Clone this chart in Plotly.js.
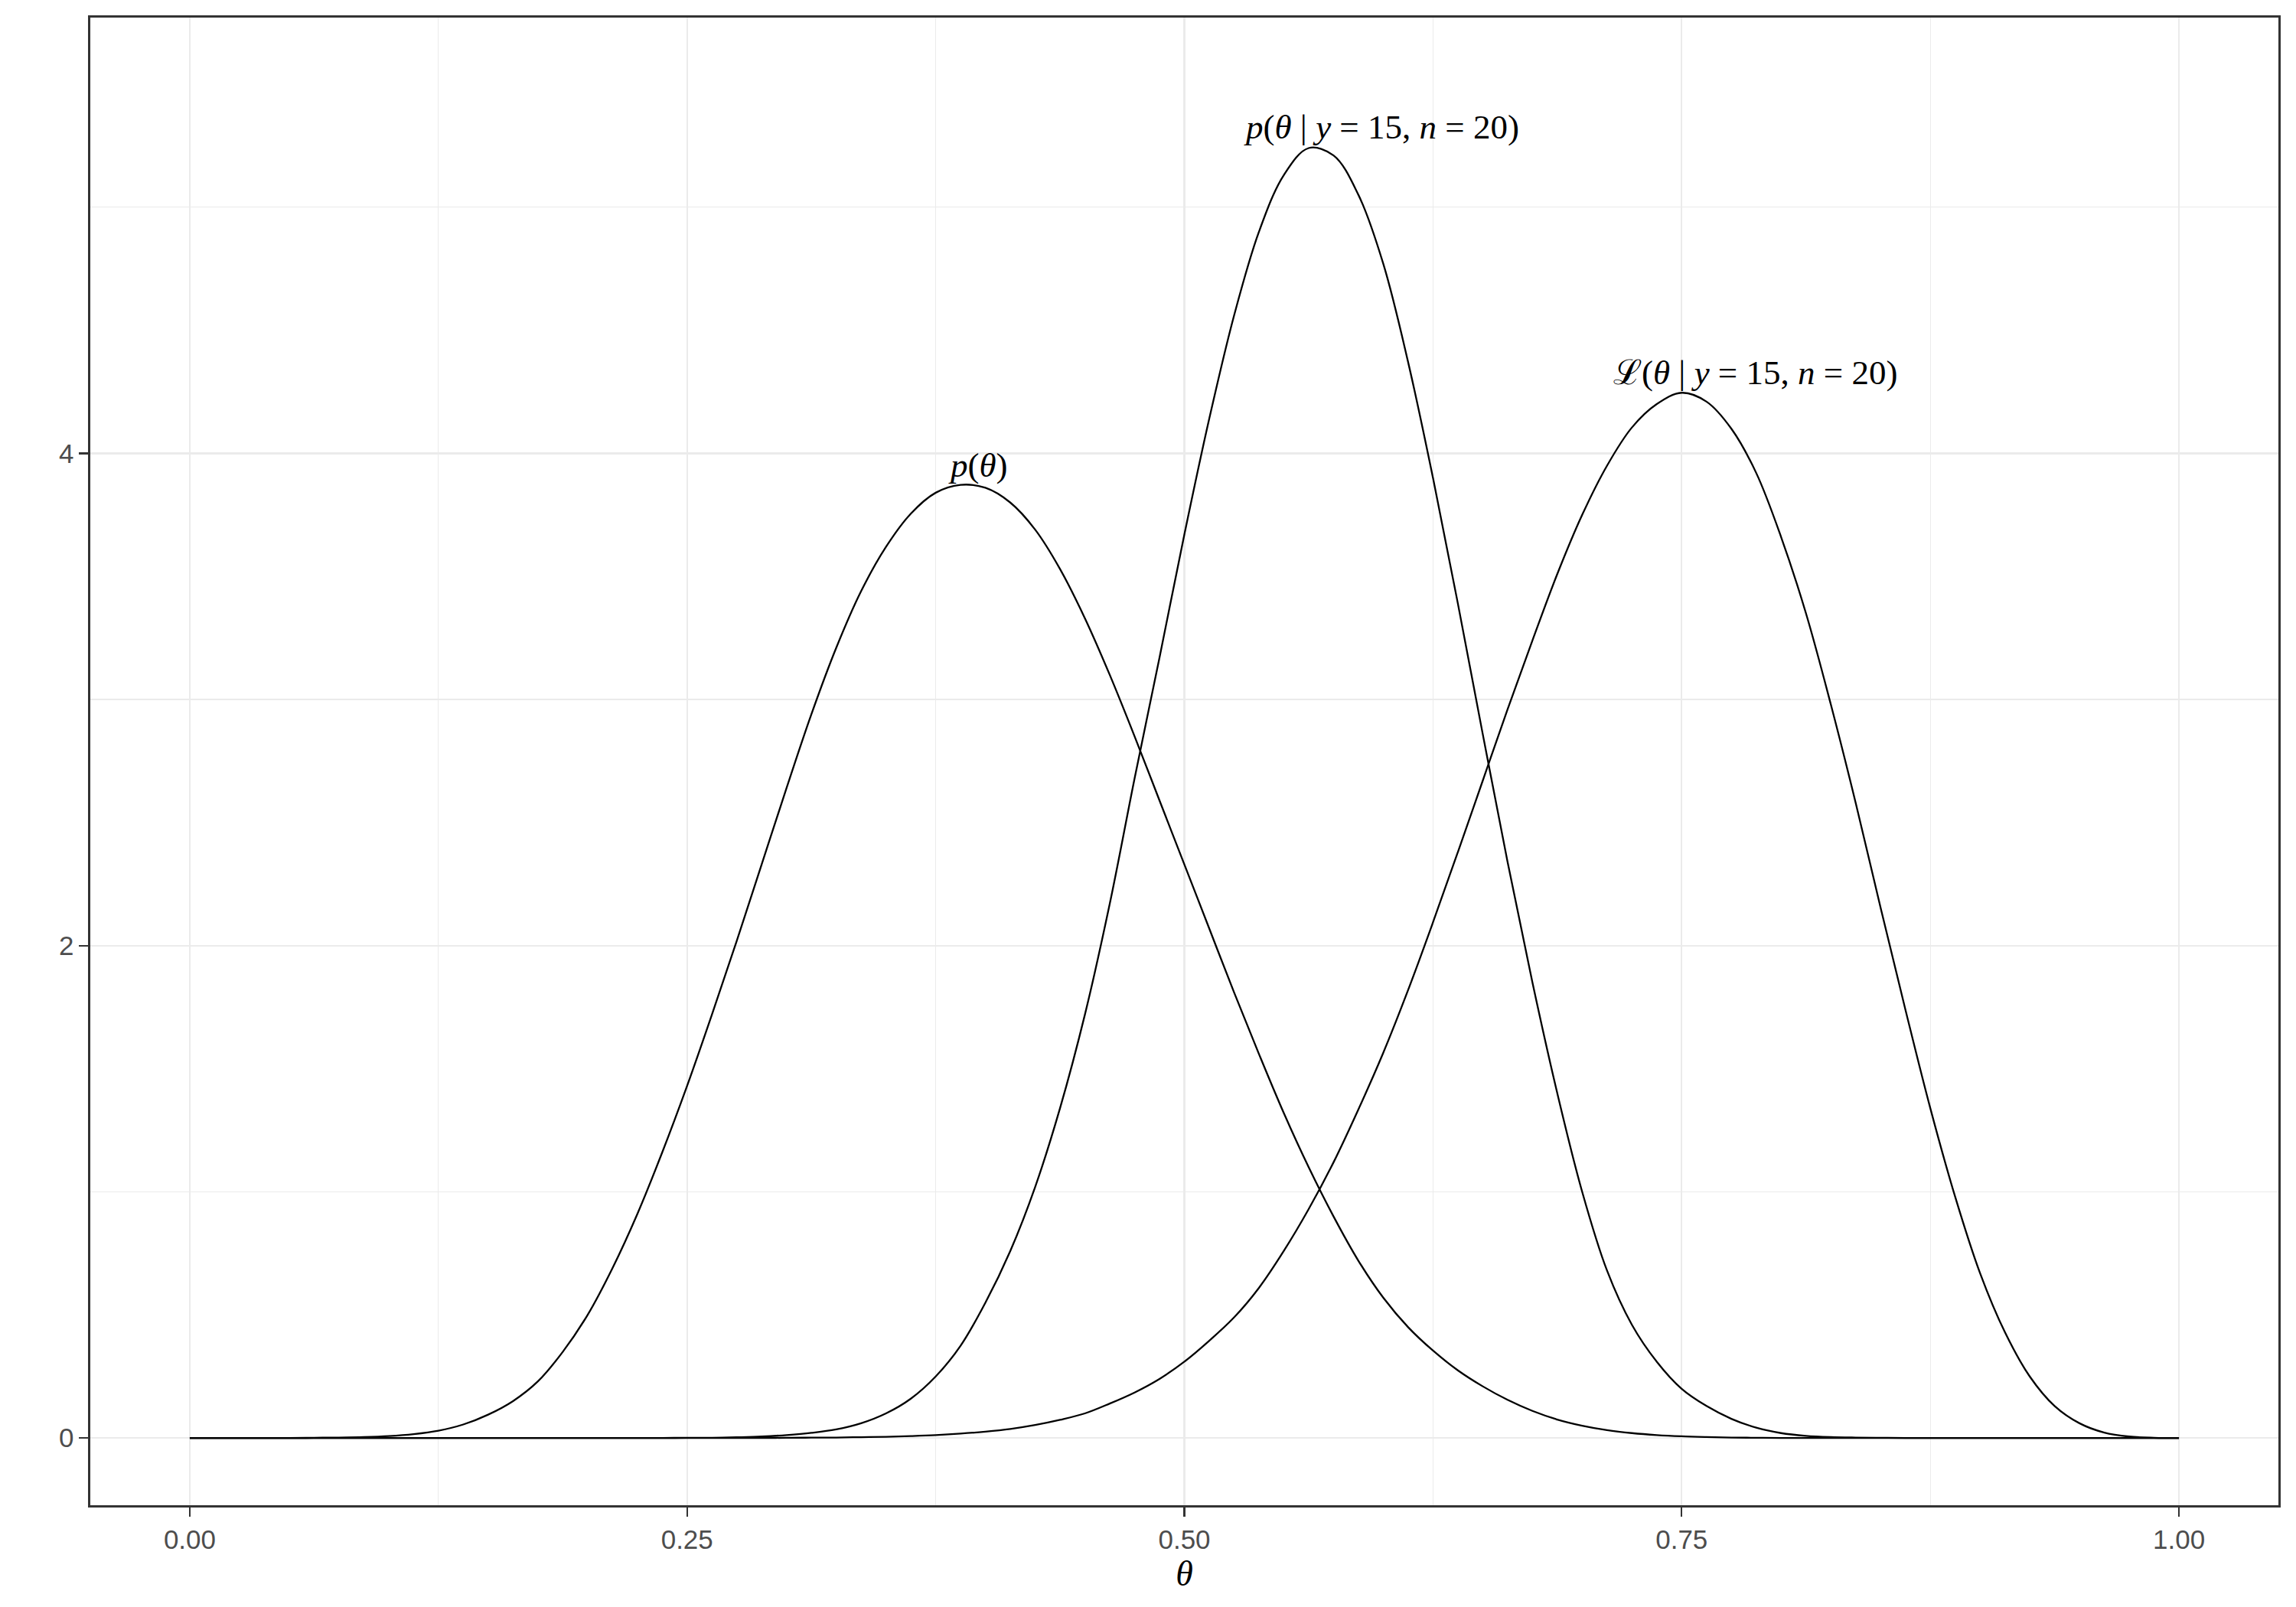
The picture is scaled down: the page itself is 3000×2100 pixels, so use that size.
<!DOCTYPE html>
<html>
<head>
<meta charset="utf-8">
<script src="https://cdn.plot.ly/plotly-3.0.1.min.js"></script>
<style>
  html, body { margin: 0; padding: 0; background: #ffffff; }
  #myDiv { width: 3000px; height: 2100px; }
</style>
</head>
<body>
<div id="myDiv"></div>
<script>
// theta grid, values every 0.0125
var theta = [0, 0.0125, 0.025, 0.0375, 0.05, 0.0625, 0.075, 0.0875, 0.1, 0.1125,
  0.125, 0.1375, 0.15, 0.1625, 0.175, 0.1875, 0.2, 0.2125, 0.225, 0.2375,
  0.25, 0.2625, 0.275, 0.2875, 0.3, 0.3125, 0.325, 0.3375, 0.35, 0.3625,
  0.375, 0.3875, 0.4, 0.4125, 0.425, 0.4375, 0.45, 0.4625, 0.475, 0.4875,
  0.5, 0.5125, 0.525, 0.5375, 0.55, 0.5625, 0.575, 0.5875, 0.6, 0.6125,
  0.625, 0.6375, 0.65, 0.6625, 0.675, 0.6875, 0.7, 0.7125, 0.725, 0.7375,
  0.75, 0.7625, 0.775, 0.7875, 0.8, 0.8125, 0.825, 0.8375, 0.85, 0.8625,
  0.875, 0.8875, 0.9, 0.9125, 0.925, 0.9375, 0.95, 0.9625, 0.975, 0.9875,
  1];

// p(theta)
var prior = [0, 0, 0, 0, 0, 0.001, 0.002, 0.004, 0.008, 0.016,
  0.03, 0.055, 0.095, 0.15, 0.23, 0.35, 0.5, 0.69, 0.91, 1.16,
  1.43, 1.72, 2.02, 2.33, 2.64, 2.94, 3.21, 3.44, 3.62, 3.755,
  3.84, 3.872, 3.86, 3.8, 3.69, 3.53, 3.33, 3.1, 2.85, 2.59,
  2.33, 2.07, 1.81, 1.56, 1.32, 1.1, 0.9, 0.72, 0.57, 0.45,
  0.355, 0.275, 0.21, 0.155, 0.11, 0.075, 0.05, 0.032, 0.02, 0.012,
  0.007, 0.004, 0.002, 0.001, 0, 0, 0, 0, 0, 0,
  0, 0, 0, 0, 0, 0, 0, 0, 0, 0,
  0];

// p(theta | y = 15, n = 20)
var posterior = [0, 0, 0, 0, 0, 0, 0, 0, 0, 0,
  0, 0, 0, 0, 0, 0, 0, 0, 0, 0,
  0.001, 0.001, 0.003, 0.006, 0.012, 0.021, 0.035, 0.06, 0.1, 0.16,
  0.25, 0.375, 0.55, 0.76, 1.02, 1.34, 1.72, 2.17, 2.68, 3.17,
  3.67, 4.14, 4.56, 4.9, 5.13, 5.24, 5.21, 5.05, 4.77, 4.37,
  3.9, 3.39, 2.86, 2.34, 1.85, 1.4, 1.0, 0.68, 0.46, 0.31,
  0.2, 0.13, 0.078, 0.042, 0.02, 0.009, 0.004, 0.002, 0.001, 0,
  0, 0, 0, 0, 0, 0, 0, 0, 0, 0,
  0];

// L(theta | y = 15, n = 20)
var likelihood = [0, 0, 0, 0, 0, 0, 0, 0, 0, 0,
  0, 0, 0, 0, 0, 0, 0, 0, 0, 0,
  0, 0, 0, 0, 0.001, 0.0015, 0.002, 0.0035, 0.005, 0.008,
  0.012, 0.018, 0.026, 0.037, 0.053, 0.074, 0.1, 0.14, 0.185, 0.24,
  0.31, 0.395, 0.49, 0.61, 0.76, 0.93, 1.12, 1.335, 1.565, 1.82,
  2.095, 2.38, 2.67, 2.96, 3.24, 3.51, 3.75, 3.95, 4.105, 4.2,
  4.246, 4.21, 4.1, 3.92, 3.66, 3.35, 2.98, 2.58, 2.155, 1.74,
  1.34, 0.98, 0.67, 0.43, 0.25, 0.13, 0.06, 0.022, 0.006, 0.001,
  0];

var xTicks = [0, 0.25, 0.5, 0.75, 1];
var xTickText = ["0.00", "0.25", "0.50", "0.75", "1.00"];
var yTicks = [0, 2, 4];
var yTickText = ["0", "2", "4"];

var labelPrior = "<i>p</i>(<i>θ</i>)";
var labelPosterior = "<i>p</i>(<i>θ</i> | <i>y</i> = 15, <i>n</i> = 20)";
var labelLikelihood = "ℒ(<i>θ</i> | <i>y</i> = 15, <i>n</i> = 20)";

function maxOf(arr) {
  return Math.max.apply(null, arr);
}

function curve(y) {
  return {
    type: "scatter",
    mode: "lines",
    x: theta,
    y: y,
    line: { color: "#000000", width: 2.3, shape: "spline", smoothing: 1 },
    hoverinfo: "skip",
    showlegend: false,
  };
}

var data = [curve(likelihood), curve(posterior), curve(prior)];

var serif = "Liberation Serif, DejaVu Serif, serif";
var sans = "Liberation Sans, Arial, sans-serif";
var major = "#EBEBEB";

function label(text, x, y) {
  return {
    x: x, y: y, xref: "x", yref: "y",
    text: text, showarrow: false,
    xanchor: "center", yanchor: "bottom",
    font: { family: serif, size: 45, color: "#000000" },
    borderpad: 0,
  };
}

var layout = {
  width: 3000,
  height: 2100,
  paper_bgcolor: "#ffffff",
  plot_bgcolor: "#ffffff",
  margin: { l: 118, r: 23, t: 23, b: 133 },
  showlegend: false,
  xaxis: {
    range: [-0.05, 1.05],
    tickmode: "array",
    tickvals: xTicks,
    ticktext: xTickText,
    ticks: "outside",
    ticklen: 12,
    tickwidth: 2.2,
    tickcolor: "#333333",
    tickfont: { family: sans, size: 35, color: "#4D4D4D" },
    showgrid: true,
    gridcolor: major,
    gridwidth: 2.3,
    minor: { tickmode: "linear", tick0: 0.125, dtick: 0.25, showgrid: true, gridcolor: major, gridwidth: 1.2, ticks: "" },
    zeroline: false,
    showline: true,
    mirror: true,
    linecolor: "#333333",
    linewidth: 2.6,
    title: { text: "<i>θ</i>", font: { family: serif, size: 46, color: "#000000" }, standoff: 8 },
  },
  yaxis: {
    range: [-0.273, 5.77],
    tickmode: "array",
    tickvals: yTicks,
    ticktext: yTickText,
    ticks: "outside",
    ticklen: 12,
    tickwidth: 2.2,
    tickcolor: "#333333",
    tickfont: { family: sans, size: 35, color: "#4D4D4D" },
    showgrid: true,
    gridcolor: major,
    gridwidth: 2.3,
    minor: { tickmode: "linear", tick0: 1, dtick: 2, showgrid: true, gridcolor: major, gridwidth: 1.2, ticks: "" },
    zeroline: false,
    showline: true,
    mirror: true,
    linecolor: "#333333",
    linewidth: 2.6,
  },
  annotations: [
    label(labelPrior, 0.3965, maxOf(prior)),
    label(labelPosterior, 0.599, Math.max(maxOf(posterior), 5.245)),
    label(labelLikelihood, 0.787, maxOf(likelihood)),
  ],
};

var config = { displayModeBar: false, staticPlot: true };

Plotly.newPlot("myDiv", data, layout, config);
</script>
</body>
</html>
